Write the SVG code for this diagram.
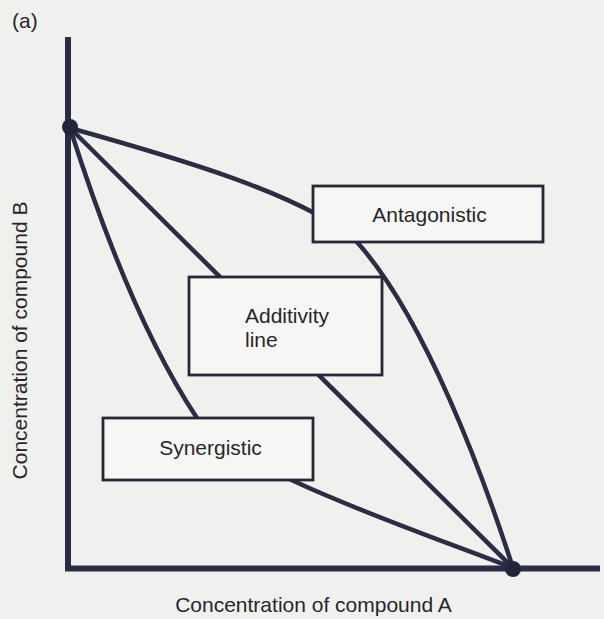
<svg xmlns="http://www.w3.org/2000/svg" width="604" height="619" viewBox="0 0 604 619">
<style>
.lbl{font-family:"Liberation Sans",Arial,sans-serif;font-size:21px;fill:#26262b}
.box{fill:#f6f7f5;stroke:#262838;stroke-width:2.8}
.curve{fill:none;stroke:#2b2d45;stroke-width:4.5;stroke-linecap:round}
.axis{fill:none;stroke:#2b2d45;stroke-width:6}
.dot{fill:#23253a}
</style>
<rect x="0" y="0" width="604" height="619" fill="#f0f1ef"/>
<text class="lbl" x="12" y="28" font-size="20">(a)</text>
<g id="axes">
<line class="axis" x1="68" y1="37" x2="68" y2="571"/>
<line class="axis" x1="65" y1="568.5" x2="600" y2="568.5"/>
</g>
<g id="connectors">
<path class="curve" d="M70,128 C170,156 307,195 357,242 C425,318 483,475 513,568"/>
<path class="curve" d="M70,128 L513,568"/>
<path class="curve" d="M70,128 C105,238 147,343 197,418 C235,470 413,529 513,568"/>
</g>
<g id="points">
<circle class="dot" cx="70" cy="127" r="8"/>
<circle class="dot" cx="513" cy="569" r="8"/>
</g>
<g id="antagonistic">
<rect class="box" x="313" y="186" width="230" height="56"/>
<text class="lbl" x="429.5" y="222" text-anchor="middle">Antagonistic</text>
</g>
<g id="additivity">
<rect class="box" x="189" y="277" width="193" height="98"/>
<text class="lbl" x="245" y="323">Additivity</text>
<text class="lbl" x="245" y="347">line</text>
</g>
<g id="synergistic">
<rect class="box" x="103" y="418" width="210" height="62"/>
<text class="lbl" x="210.5" y="455" text-anchor="middle">Synergistic</text>
</g>
<g id="axis-labels">
<text class="lbl" x="313.5" y="612" text-anchor="middle">Concentration of compound A</text>
<text class="lbl" transform="translate(27,340.5) rotate(-90)" text-anchor="middle">Concentration of compound B</text>
</g>
</svg>
